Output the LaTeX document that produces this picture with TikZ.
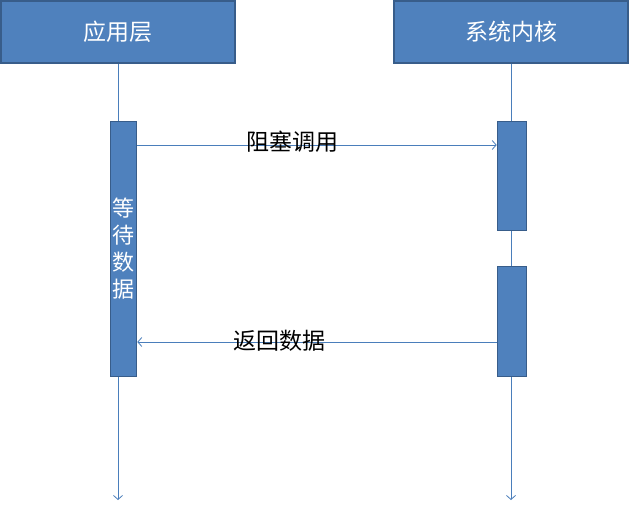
\documentclass[tikz,border=0pt]{standalone}
\usepackage{fontspec}
\setmainfont{Noto Sans CJK SC}
\usetikzlibrary{arrows.meta}
\definecolor{boxfill}{HTML}{4F81BD}
\definecolor{boxline}{HTML}{385D8A}
\definecolor{lineblue}{HTML}{4A7EBB}
\tikzset{
  header/.style={draw=boxline, line width=1.6pt, fill=boxfill, text=white, inner sep=0pt, font=\fontsize{23}{26}\selectfont},
  actbar/.style={draw=boxline, line width=1.6pt, fill=boxfill, inner sep=0pt},
  lifeline/.style={draw=lineblue, line width=0.8pt, -{Straight Barb[length=4pt,width=9pt]}},
  msg/.style={draw=lineblue, line width=0.8pt, -{Straight Barb[length=4pt,width=9pt]}},
  msglabel/.style={text=black, inner sep=0pt, font=\fontsize{23}{26}\selectfont}
}
\begin{document}
\begin{tikzpicture}[x=1pt,y=-1pt]
\useasboundingbox (0,0) rectangle (630,509);
% headers
\node[header, minimum width=234pt, minimum height=62pt] (app) at (118,32) {应用层};
\node[header, minimum width=234pt, minimum height=62pt] (kern) at (511,32) {系统内核};
% lifeline ends
\coordinate (appEnd) at (118,500);
\coordinate (kernEnd) at (511,500);
\draw[lifeline] (app.south) -- (appEnd);
\draw[lifeline] (kern.south) -- (kernEnd);
% activation bars
\node[actbar, minimum width=26pt, minimum height=255pt] (wait) at (123.5,249) {};
\node[actbar, minimum width=29pt, minimum height=109pt] (k1) at (512,176) {};
\node[actbar, minimum width=29pt, minimum height=110pt] (k2) at (512,321.5) {};
% vertical text
\node[text=white, align=center, inner sep=0pt, font=\fontsize{22}{27}\selectfont] (waittext) at (123,249) {等\\待\\数\\据};
% messages
\coordinate (m1s) at (wait.east |- 0,145);
\coordinate (m1e) at (k1.west |- 0,145);
\draw[msg] (m1s) -- (m1e);
\node[msglabel] (l1) at (292,142) {阻塞调用};
\coordinate (m2s) at (k2.west |- 0,342);
\coordinate (m2e) at (wait.east |- 0,342);
\draw[msg] (m2s) -- (m2e);
\node[msglabel] (l2) at (279.5,341) {返回数据};
\end{tikzpicture}
\end{document}
